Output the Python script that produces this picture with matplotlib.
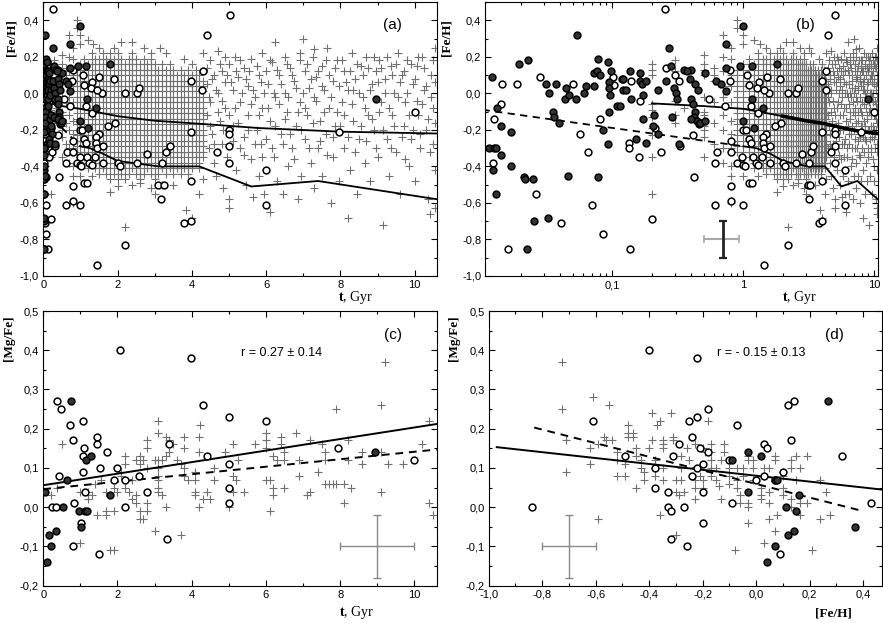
import numpy as np
import matplotlib
matplotlib.use("Agg")
import matplotlib.pyplot as plt
from matplotlib.ticker import MultipleLocator, FuncFormatter, LogLocator, NullFormatter

plt.rcParams['font.family'] = 'Liberation Sans'
plt.rcParams['mathtext.fontset'] = 'custom'
plt.rcParams['mathtext.bf'] = 'Liberation Serif:bold'
plt.rcParams['mathtext.rm'] = 'Liberation Serif'

# ---------------- panels (a),(b): age vs [Fe/H] ----------------
# filled circles (t [Gyr], [Fe/H])
filled_ab = [(0.012, 0.09), (0.0192, 0.16), (0.0225, 0.18), (0.0537, 0.32), (0.031, 0.05), (0.0374, 0.05),
             (0.0327, 0.0), (0.0443, 0.03), (0.0433, -0.03), (0.0464, -0.01), (0.0531, -0.03), (0.061, 0.0),
             (0.063, 0.04), (0.0725, 0.04), (0.072, 0.11), (0.076, 0.12), (0.0805, 0.10), (0.0778, 0.19),
             (0.093, 0.17), (0.097, 0.12), (0.094, 0.06), (0.094, 0.03), (0.095, -0.01), (0.0937, -0.10),
             (0.0853, -0.20), (0.092, -0.28), (0.0773, -0.46), (0.108, -0.07), (0.1186, 0.08), (0.12, 0.02),
             (0.0132, -0.08), (0.0141, -0.18), (0.0167, -0.21), (0.0115, -0.30), (0.0124, -0.30), (0.013, -0.30),
             (0.0141, -0.34), (0.0122, -0.42), (0.0169, -0.40), (0.0129, -0.55), (0.0212, -0.46), (0.0215, -0.47),
             (0.0249, -0.47), (0.0254, -0.70), (0.0322, -0.68), (0.0221, -0.85), (0.0454, -0.45), (0.035, -0.10),
             (0.0355, -0.13), (0.0394, -0.16), (1.0, 0.37), (0.733, 0.27), (0.269, 0.25), (0.1355, 0.12),
             (0.1206, 0.08), (0.162, 0.11), (0.162, 0.07), (0.167, 0.05), (0.18, 0.07), (0.126, 0.02),
             (0.138, -0.03), (0.115, -0.07), (0.221, 0.02), (0.171, -0.01), (0.17, -0.14), (0.206, -0.12),
             (0.203, -0.18), (0.223, -0.22), (0.152, -0.25), (0.18, -0.27), (0.285, -0.13), (0.282, 0.15),
             (0.258, 0.07), (0.296, 0.03), (0.305, 0.0), (0.31, -0.03), (0.32, -0.28), (0.35, 0.13), (0.40, 0.13),
             (0.39, 0.08), (0.43, 0.05), (0.45, 0.02), (0.40, -0.03), (0.41, -0.06), (0.43, -0.10), (0.42, -0.13),
             (0.44, -0.15), (0.46, -0.17), (0.40, -0.14), (0.47, -0.16), (0.507, 0.11), (0.507, -0.15),
             (0.615, 0.07), (0.67, 0.05), (0.73, 0.01), (0.733, 0.14), (0.94, 0.15), (1.0, -0.15), (0.37, 0.12),
             (1.16, 0.15), (1.8, 0.16), (8.95, -0.03), (1.17, -0.03), (1.41, -0.08), (1.2, -0.19)]

# open circles
open_ab = [(0.0144, 0.05), (0.0186, 0.05), (0.0282, 0.09), (0.0504, 0.05), (0.101, 0.09), (0.103, 0.045),
           (0.0141, -0.06), (0.0125, -0.14), (0.0122, -0.38), (0.0259, -0.55), (0.0159, -0.85), (0.0567, -0.22),
           (0.065, -0.32), (0.0805, -0.14), (0.0703, -0.61), (0.0403, -0.71), (0.0853, -0.77), (0.254, 0.46),
           (0.136, -0.85), (0.20, -0.69), (0.418, -0.46), (0.608, -0.61), (0.805, -0.51), (0.805, -0.59),
           (1.0, -0.61), (0.134, -0.27), (0.134, -0.30), (0.16, -0.35), (0.236, -0.32), (0.21, -0.19),
           (0.163, -0.04), (0.41, -0.23), (0.327, -0.29), (0.633, -0.32), (0.608, -0.38), (0.80, -0.26),
           (0.80, -0.32), (0.9, -0.38), (1.0, -0.39), (1.02, -0.40), (0.547, -0.03), (0.72, -0.07), (0.786, 0.07),
           (0.79, 0.13), (0.255, 0.14), (0.30, 0.10), (0.32, 0.07), (0.138, 0.07), (5.04, 0.43), (4.40, 0.32),
           (4.30, 0.12), (3.97, 0.07), (4.27, 0.02), (1.90, 0.08), (1.51, 0.09), (2.2, 0.0), (2.52, 0.0),
           (2.59, 0.03), (1.57, 0.0), (1.06, 0.10), (1.10, 0.045), (1.31, 0.06), (1.28, 0.03), (1.44, 0.02),
           (1.15, -0.07), (1.30, -0.11), (1.0, -0.20), (1.04, -0.20), (1.94, -0.16), (1.73, -0.18), (1.50, -0.22),
           (1.42, -0.24), (1.42, -0.27), (1.44, -0.30), (1.60, -0.29), (1.1, -0.25), (1.15, -0.27), (0.98, -0.35),
           (1.19, -0.35), (1.38, -0.35), (1.24, -0.38), (1.30, -0.39), (1.60, -0.38), (2.0, -0.38), (2.07, -0.40),
           (2.52, -0.38), (2.79, -0.33), (3.19, -0.38), (3.31, -0.32), (3.40, -0.29), (3.98, -0.21), (4.69, -0.32),
           (5.01, -0.20), (5.01, -0.22), (5.01, -0.29), (5.01, -0.38), (6.0, -0.42), (6.0, -0.61), (7.95, -0.21),
           (10.0, -0.10), (1.1, -0.49), (1.17, -0.49), (3.97, -0.48), (3.1, -0.50), (3.24, -0.50), (3.18, -0.58),
           (3.80, -0.71), (3.99, -0.70), (2.2, -0.83), (1.44, -0.94)]

# field stars: ages on a 0.1 Gyr grid in the dense part ([Fe/H] in hundredths)
lattice_t = [0.9, 1.0, 1.1, 1.2, 1.3, 1.4, 1.5, 1.6, 1.7, 1.8, 1.9, 2.0, 2.1, 2.2, 2.3, 2.4, 2.5, 2.6,
             2.7, 2.8, 2.9, 3.0, 3.1, 3.2, 3.3, 3.4, 3.5, 3.6, 3.7, 3.8, 3.9, 4.0, 4.1, 4.2, 4.3]
lattice_feh = [
    [-32, -29, -26, -23, -20, -17, -14, -11, -8, -5, -2, 1, 4, 7, 10, 13],
    [-38, -35, -32, -29, -26, -23, -20, -17, -14, -11, -8, -5, -2, 1, 4, 7, 10, 13, 16],
    [-35, -32, -29, -26, -23, -20, -17, -14, -11, -8, -5, -2, 1, 4, 7, 10, 13, 16, 19],
    [-41, -38, -35, -32, -29, -26, -23, -20, -17, -14, -11, -8, -5, -2, 1, 4, 7, 10, 13, 16],
    [-38, -35, -32, -29, -26, -23, -20, -17, -14, -11, -8, -5, -2, 1, 4, 7, 10, 13, 16, 19, 22],
    [-41, -38, -35, -32, -29, -26, -23, -20, -17, -14, -11, -8, -5, -2, 1, 4, 7, 10, 13, 16, 19],
    [-44, -41, -38, -35, -32, -29, -26, -23, -20, -17, -14, -11, -8, -5, -2, 1, 4, 7, 10, 13, 16, 19],
    [-41, -38, -35, -32, -29, -26, -23, -20, -17, -14, -11, -8, -5, -2, 1, 4, 7, 10, 13, 16, 19, 22],
    [-44, -41, -38, -35, -32, -29, -26, -23, -20, -17, -14, -11, -8, -5, -2, 1, 4, 7, 10, 13, 16, 19],
    [-47, -44, -41, -38, -35, -32, -29, -26, -23, -20, -17, -14, -11, -8, -5, -2, 1, 4, 7, 10, 13, 16, 19, 22],
    [-44, -41, -38, -35, -32, -29, -26, -23, -20, -17, -14, -11, -8, -5, -2, 1, 4, 7, 10, 13, 16, 19],
    [-47, -44, -41, -38, -35, -32, -29, -26, -23, -20, -17, -14, -11, -8, -5, -2, 1, 4, 7, 10, 13, 16, 19, 22],
    [-44, -41, -38, -35, -32, -29, -26, -23, -20, -17, -14, -11, -8, -5, -2, 1, 4, 7, 10, 13, 16, 19],
    [-47, -44, -41, -38, -35, -32, -29, -26, -23, -20, -17, -14, -11, -8, -5, -2, 1, 4, 7, 10, 13, 16],
    [-44, -41, -38, -35, -32, -29, -26, -23, -20, -17, -14, -11, -8, -5, -2, 1, 4, 7, 10, 13, 16, 19],
    [-41, -38, -35, -32, -29, -26, -23, -20, -17, -14, -11, -8, -5, -2, 1, 4, 7, 10, 13, 16, 19, 22],
    [-44, -41, -38, -35, -32, -29, -26, -23, -20, -17, -14, -11, -8, -5, -2, 1, 4, 7, 10, 13, 16, 19],
    [-47, -44, -41, -38, -35, -32, -29, -26, -23, -20, -17, -14, -11, -8, -5, -2, 1, 4, 7, 10, 13, 16],
    [-44, -41, -38, -35, -32, -29, -26, -23, -20, -17, -14, -11, -8, -5, -2, 1, 4, 7, 10, 13, 16, 19],
    [-41, -38, -35, -32, -29, -26, -23, -20, -17, -14, -11, -8, -5, -2, 1, 4, 7, 10, 13, 16],
    [-44, -41, -38, -35, -32, -29, -26, -23, -20, -17, -14, -11, -8, -5, -2, 1, 4, 7, 10, 13, 16, 19],
    [-47, -44, -41, -38, -35, -32, -29, -26, -23, -20, -17, -14, -11, -8, -5, -2, 1, 4, 7, 10, 13, 16],
    [-44, -41, -38, -35, -32, -29, -26, -23, -20, -17, -14, -11, -8, -5, -2, 1, 4, 7, 10, 13],
    [-41, -38, -35, -32, -29, -26, -23, -20, -17, -14, -11, -8, -5, -2, 1, 4, 7, 10, 13, 16],
    [-44, -41, -38, -35, -32, -29, -26, -23, -20, -17, -14, -11, -8, -5, -2, 1, 4, 7, 10, 13],
    [-41, -38, -35, -32, -29, -26, -23, -20, -17, -14, -11, -8, -5, -2, 1, 4, 7, 10, 13, 16],
    [-44, -41, -38, -35, -32, -29, -26, -23, -20, -17, -14, -11, -8, -5, -2, 1, 4, 7, 10, 13],
    [-41, -38, -35, -32, -29, -26, -23, -20, -17, -14, -11, -8, -5, -2, 1, 4, 7, 10],
    [-44, -41, -38, -35, -32, -29, -26, -23, -20, -17, -14, -11, -8, -5, -2, 1, 4, 7, 10, 13],
    [-41, -38, -35, -32, -29, -26, -23, -20, -17, -14, -11, -8, -5, -2, 1, 4, 7, 10],
    [-44, -41, -38, -35, -32, -29, -26, -23, -20, -17, -14, -11, -8, -5, -2, 1, 4, 7, 10, 13],
    [-41, -38, -35, -32, -29, -26, -23, -20, -17, -14, -11, -8, -5, -2, 1, 4, 7, 10],
    [-38, -35, -32, -29, -26, -23, -20, -17, -14, -11, -8, -5, -2, 1, 4, 7, 10, 13],
    [-41, -38, -35, -32, -29, -26, -23, -20, -17, -14, -11, -8, -5, -2, 1, 4, 7, 10],
    [-35, -32, -29, -26, -23, -20, -17, -14, -11, -8, -5, -2, 1, 4, 7],
]

# field stars outside the dense grid
crosses_ab = [(0.2, 0.16), (0.2, 0.13), (0.2, 0.10), (0.2, -0.06), (0.2, -0.09), (0.2, -0.13), (0.2, -0.19),
              (0.2, -0.23), (0.2, -0.35), (0.2, -0.55), (0.3, 0.18), (0.3, 0.12), (0.3, -0.04), (0.3, -0.12),
              (0.3, -0.16), (0.35, -0.08), (0.5, 0.21), (0.5, 0.16), (0.5, 0.13), (0.5, 0.10), (0.5, -0.02),
              (0.5, -0.10), (0.5, -0.12), (0.5, -0.14), (0.5, -0.18), (0.5, -0.20), (0.5, -0.24), (0.5, -0.35),
              (0.6, 0.14), (0.6, 0.10), (0.6, 0.07), (0.6, -0.05), (0.6, -0.16), (0.6, -0.28), (0.7, 0.32),
              (0.7, 0.20), (0.7, 0.12), (0.7, 0.04), (0.7, -0.02), (0.7, -0.12), (0.7, -0.20), (0.7, -0.30),
              (0.7, -0.38), (0.8, 0.25), (0.8, 0.19), (0.8, 0.10), (0.8, 0.04), (0.8, -0.05), (0.8, -0.15),
              (0.8, -0.22), (0.8, -0.30), (0.8, -0.40), (0.8, -0.45), (0.8, -0.60), (0.9, 0.40), (0.9, 0.36),
              (1.0, 0.32), (1.0, 0.27), (1.2, 0.29), (1.35, 0.27), (1.5, 0.25), (1.9, 0.25), (2.1, 0.28),
              (2.4, 0.28), (2.7, 0.25), (3.15, 0.25), (3.3, 0.22), (2.9, 0.22), (3.8, 0.19), (4.0, 0.16),
              (4.3, 0.22), (1.0, -0.45), (1.3, -0.45), (1.8, -0.54), (2.2, -0.73), (2.4, -0.50), (2.9, -0.52),
              (3.2, -0.50), (3.5, -0.50), (3.85, -0.64), (4.0, -0.68), (4.2, -0.55), (4.3, -0.47), (2.0, -0.51),
              (2.6, -0.49), (3.0, -0.55),
              (4.4, 0.05), (4.4, -0.12), (4.45, -0.30), (4.5, 0.18), (4.5, -0.05), (4.55, -0.22), (4.6, 0.10),
              (4.6, -0.38), (4.65, -0.45), (4.7, 0.23), (4.7, 0.0), (4.75, -0.15), (4.8, 0.12), (4.8, -0.28),
              (4.85, -0.52), (4.9, 0.06), (4.9, -0.08), (4.95, -0.35), (5.0, 0.16), (5.0, -0.58), (5.0, -0.63),
              (5.1, 0.02), (5.1, -0.18), (5.15, 0.2), (5.2, -0.42), (5.25, 0.09), (5.3, -0.05), (5.3, -0.30),
              (5.4, 0.14), (5.4, -0.24), (5.45, -0.50), (5.5, 0.04), (5.5, -0.12), (5.6, 0.19), (5.6, -0.36),
              (5.65, -0.57), (5.7, -0.02), (5.75, -0.20), (5.8, 0.10), (5.8, -0.45), (5.85, -0.28), (5.9, 0.22),
              (5.9, -0.08), (5.95, -0.55), (6.05, 0.05), (6.1, -0.15), (6.1, -0.65), (6.15, 0.17), (6.2, -0.35),
              (6.25, 0.28), (6.25, -0.02), (6.3, -0.48), (6.35, 0.10), (6.4, -0.22), (6.45, -0.55), (6.5, 0.0),
              (6.5, 0.20), (6.55, -0.10), (6.6, -0.40), (6.65, 0.14), (6.7, -0.30), (6.75, 0.07), (6.8, -0.18),
              (6.85, -0.58), (6.9, 0.18), (6.9, -0.05), (6.95, -0.45), (7.0, 0.30), (7.05, 0.12), (7.05, -0.25),
              (7.1, -0.12), (7.15, 0.03), (7.2, -0.38), (7.25, 0.20), (7.3, -0.52), (7.3, -0.02), (7.35, 0.09),
              (7.4, -0.30), (7.45, -0.15), (7.5, 0.15), (7.5, -0.45), (7.55, 0.02), (7.6, -0.22), (7.65, 0.25),
              (7.7, -0.08), (7.75, -0.60), (7.8, 0.07), (7.8, -0.35), (7.85, -0.18), (7.9, 0.18), (7.95, -0.48),
              (8.05, -0.05), (8.1, 0.12), (8.1, -0.30), (8.2, -0.68), (8.2, 0.02), (8.25, -0.42), (8.3, 0.22),
              (8.35, -0.15), (8.4, 0.08), (8.45, -0.55), (8.5, -0.25), (8.55, 0.15), (8.6, -0.02), (8.65, -0.38),
              (8.7, 0.20), (8.75, -0.12), (8.8, -0.48), (8.85, 0.05), (8.9, -0.20), (8.95, 0.12), (9.0, -0.35),
              (9.05, 0.18), (9.1, -0.05), (9.15, -0.72), (9.2, 0.08), (9.25, -0.25), (9.3, -0.45), (9.35, 0.15),
              (9.4, -0.12), (9.45, 0.0), (9.5, -0.32), (9.55, 0.22), (9.6, -0.55), (9.65, 0.10), (9.7, -0.18),
              (9.75, -0.05), (9.8, 0.18), (9.85, -0.40), (9.9, -0.25), (9.95, 0.05), (10.0, -0.48), (10.05, 0.15),
              (10.1, -0.12), (10.15, -0.30), (10.2, 0.20), (10.25, 0.02), (10.3, -0.20), (10.35, -0.58),
              (10.4, -0.66), (10.45, 0.10), (10.5, -0.08), (10.5, -0.28), (10.55, 0.25), (10.55, -0.63),
              (10.55, -0.42)]

# more old field stars (t > 4.3 Gyr), the crowded band between -0.35 and +0.2
crosses_ab_old = [(4.4, 0.14), (4.45, -0.02), (4.5, -0.18), (4.55, 0.08), (4.6, -0.28), (4.65, 0.02),
                  (4.7, -0.10), (4.75, 0.16), (4.8, -0.04), (4.85, -0.20), (4.9, 0.20), (4.95, 0.10),
                  (5.0, -0.12), (5.05, 0.06), (5.1, -0.26), (5.15, -0.08), (5.2, 0.12), (5.25, -0.16),
                  (5.3, 0.18), (5.35, 0.0), (5.4, -0.34), (5.45, 0.08), (5.5, -0.20), (5.55, 0.12),
                  (5.6, -0.06), (5.65, 0.02), (5.7, -0.28), (5.75, 0.15), (5.8, -0.12), (5.85, 0.06),
                  (5.9, -0.35), (5.95, 0.0), (6.0, 0.12), (6.0, -0.25), (6.05, -0.08), (6.1, 0.18),
                  (6.15, -0.30), (6.2, 0.0), (6.25, -0.18), (6.3, 0.13), (6.35, -0.06), (6.4, 0.05),
                  (6.45, -0.28), (6.5, -0.14), (6.55, 0.16), (6.6, -0.02), (6.65, -0.22), (6.7, 0.10),
                  (6.75, -0.36), (6.8, 0.03), (6.85, -0.10), (6.9, 0.22), (6.95, -0.20), (7.0, 0.0),
                  (7.05, -0.08), (7.1, 0.16), (7.15, -0.30), (7.2, 0.08), (7.25, -0.16), (7.3, 0.24),
                  (7.35, -0.04), (7.4, 0.12), (7.45, -0.26), (7.5, 0.04), (7.55, -0.10), (7.6, 0.18),
                  (7.65, -0.34), (7.7, 0.10), (7.75, -0.02), (7.8, -0.24), (7.85, 0.14), (7.9, -0.10),
                  (7.95, 0.04), (8.0, -0.18), (8.05, 0.18), (8.1, -0.12), (8.15, 0.06), (8.2, -0.24),
                  (8.25, 0.12), (8.3, -0.06), (8.35, 0.02), (8.4, -0.32), (8.45, 0.16), (8.5, 0.0),
                  (8.55, -0.18), (8.6, 0.10), (8.65, -0.08), (8.7, -0.26), (8.75, 0.14), (8.8, 0.02),
                  (8.85, -0.14), (8.9, 0.20), (8.95, -0.30), (9.0, 0.06), (9.05, -0.10), (9.1, 0.14),
                  (9.15, -0.20), (9.2, 0.0), (9.25, 0.20), (9.3, -0.08), (9.35, -0.30), (9.4, 0.10),
                  (9.45, -0.18), (9.5, 0.16), (9.55, -0.02), (9.6, 0.06), (9.65, -0.24), (9.7, 0.12),
                  (9.75, -0.36), (9.8, 0.0), (9.85, -0.12), (9.9, 0.16), (9.95, -0.20), (10.0, 0.08),
                  (10.05, -0.04), (10.1, 0.20), (10.15, -0.22), (10.2, -0.06), (10.25, 0.14), (10.3, 0.04),
                  (10.35, -0.14), (10.4, -0.32), (10.45, -0.02), (10.5, 0.18), (10.55, 0.06), (10.55, -0.16)]

# mean relations
upper_t = [0.2, 0.5, 1.0, 2.0, 3.0, 4.1, 5.8, 8.0, 10.6]
upper_feh = [-0.055, -0.07, -0.085, -0.125, -0.15, -0.165, -0.19, -0.21, -0.22]
lower_t = [1.0, 1.25, 1.6, 2.0, 3.1, 4.2, 5.6, 7.4, 10.6]
lower_feh = [-0.29, -0.30, -0.33, -0.37, -0.40, -0.40, -0.51, -0.48, -0.58]
dash_t = [0.0102, 1.0]
dash_feh = [-0.09, -0.29]

# ---------------- panel (c): age vs [Mg/Fe] ----------------
open_c = [(2.07, 0.40), (3.97, 0.38), (4.30, 0.26), (5.01, 0.23), (6.0, 0.22), (0.36, 0.27), (0.47, 0.25),
          (0.72, 0.21), (1.08, 0.22), (0.81, 0.17), (1.10, 0.15), (1.44, 0.18), (1.44, 0.16), (1.73, 0.14),
          (1.53, 0.10), (2.0, 0.10), (3.40, 0.16), (4.40, 0.13), (7.95, 0.15), (10.0, 0.12), (5.01, 0.11),
          (5.01, 0.05), (5.01, 0.01), (0.43, 0.08), (1.06, 0.09), (1.06, 0.13), (1.90, 0.07), (2.2, 0.07),
          (2.59, 0.08), (2.79, 0.04), (2.2, 0.0), (0.23, 0.0), (0.34, 0.0), (0.83, 0.01), (1.12, 0.04),
          (1.03, -0.04), (0.81, -0.10), (1.51, -0.12), (3.33, -0.08)]
filled_c = [(0.75, 0.27), (1.28, 0.13), (1.15, 0.12), (0.63, 0.07), (0.06, 0.04), (1.80, 0.03), (0.52, 0.0),
            (0.95, -0.01), (1.12, -0.01), (1.17, -0.01), (1.02, -0.05), (0.16, -0.07), (0.33, -0.06),
            (0.20, -0.10), (0.09, -0.14), (8.93, 0.14)]
crosses_c = [(9.2, 0.37), (9.1, 0.26), (7.9, 0.25), (4.23, 0.21), (3.1, 0.22), (3.1, 0.19), (3.3, 0.18),
             (3.8, 0.18), (4.2, 0.18), (2.8, 0.17), (2.8, 0.15), (3.4, 0.17), (6.0, 0.19), (6.0, 0.17),
             (6.4, 0.18), (6.8, 0.19), (5.7, 0.16), (7.2, 0.17), (7.5, 0.16), (8.2, 0.17), (10.4, 0.22),
             (10.2, 0.16), (9.3, 0.11), (9.7, 0.11), (9.1, 0.14), (8.6, 0.14), (8.2, 0.12), (7.6, 0.14),
             (7.6, 0.12), (7.4, 0.09), (6.9, 0.12), (6.9, 0.08), (6.5, 0.05), (7.2, 0.04), (7.1, 0.03),
             (7.6, 0.06), (7.7, 0.06), (7.8, 0.06), (7.9, 0.06), (8.1, 0.06), (8.3, 0.05), (8.1, 0.01),
             (6.0, 0.07), (6.1, 0.07), (6.2, 0.05), (6.2, 0.03), (6.1, -0.01), (6.2, 0.13), (6.3, 0.12),
             (6.5, 0.12), (6.5, 0.14), (6.0, 0.15), (5.4, 0.04), (5.2, 0.07), (5.1, 0.08), (5.25, 0.12),
             (5.1, 0.16), (4.9, 0.14), (4.6, 0.10), (4.6, 0.07), (4.4, 0.04), (4.5, 0.02), (4.2, 0.0),
             (4.3, 0.02), (4.1, 0.04), (4.1, 0.03), (4.1, 0.07), (4.1, 0.09), (3.8, 0.10), (3.8, 0.08),
             (3.9, 0.07), (3.7, 0.11), (3.6, 0.12), (3.8, 0.15), (3.4, 0.14), (3.3, 0.13), (3.2, 0.12),
             (3.1, 0.12), (3.0, 0.12), (3.1, 0.10), (3.1, 0.08), (3.1, 0.07), (3.1, 0.05), (3.1, 0.04),
             (3.2, 0.03), (3.0, -0.06), (3.3, 0.0), (3.7, -0.07), (2.8, 0.10), (2.7, 0.12), (2.6, 0.13),
             (2.6, 0.11), (2.5, 0.12), (2.8, 0.01), (2.8, -0.01), (2.7, -0.03), (2.6, -0.03), (2.6, -0.01),
             (2.5, 0.01), (2.4, 0.02), (2.5, 0.03), (2.3, 0.04), (2.2, 0.05), (2.2, 0.11), (2.2, 0.13),
             (2.1, 0.09), (2.1, 0.08), (2.0, 0.04), (1.9, 0.05), (1.9, -0.01), (1.7, -0.01), (1.7, -0.02),
             (1.8, -0.11), (1.9, -0.11), (1.45, -0.02), (1.55, 0.07), (1.7, 0.04), (1.2, 0.02), (1.2, 0.04),
             (1.3, 0.03), (1.0, 0.04), (1.0, -0.09), (0.5, 0.16), (0.2, 0.03), (0.38, 0.05), (10.4, 0.01),
             (10.5, -0.02), (9.1, 0.04), (8.6, 0.11), (5.0, 0.0), (5.1, 0.04), (6.4, 0.16), (4.2, 0.14),
             (3.5, 0.16), (2.4, 0.07), (1.4, 0.06)]
fit_c_t = [0.0, 10.6]
fit_c_solid = [0.056, 0.212]
fit_c_dash = [0.046, 0.147]

# ---------------- panel (d): [Fe/H] vs [Mg/Fe] ----------------
open_d = [(-0.84, 0.0), (-0.40, 0.40), (-0.22, 0.38), (-0.61, 0.22), (-0.49, 0.13), (-0.38, 0.10),
          (-0.38, 0.05), (-0.33, 0.04), (-0.33, 0.0), (-0.32, -0.01), (-0.31, 0.13), (-0.29, 0.16),
          (-0.25, 0.22), (-0.22, 0.23), (-0.24, 0.18), (-0.21, 0.15), (-0.18, 0.25), (-0.18, 0.14),
          (-0.20, 0.11), (-0.22, 0.10), (-0.24, 0.08), (-0.20, 0.04), (-0.20, -0.04), (-0.27, 0.0),
          (-0.32, -0.08), (-0.26, -0.10), (-0.10, 0.12), (-0.07, 0.21), (-0.09, 0.01), (0.0, 0.07),
          (0.03, 0.16), (0.04, 0.15), (0.03, 0.08), (0.07, 0.07), (0.10, 0.09), (0.12, 0.26), (0.14, 0.27),
          (0.13, 0.17), (0.32, 0.13), (0.43, 0.01), (0.09, -0.12)]
filled_d = [(-0.03, 0.14), (-0.09, 0.12), (0.02, 0.13), (-0.03, 0.04), (0.07, 0.07), (0.08, 0.07),
            (0.11, 0.0), (0.15, -0.01), (0.16, 0.03), (0.14, -0.06), (0.12, -0.07), (0.07, -0.10),
            (0.04, -0.14), (0.37, -0.05), (0.27, 0.27)]
crosses_d = [(-0.725, 0.37), (-0.725, 0.25), (-0.61, 0.28), (-0.55, 0.26), (-0.71, 0.09), (-0.62, 0.11),
             (-0.62, 0.15), (-0.59, 0.16), (-0.71, 0.17), (-0.59, -0.03), (-0.57, 0.18), (-0.56, 0.17),
             (-0.54, 0.17), (-0.52, 0.14), (-0.52, 0.12), (-0.48, 0.21), (-0.48, 0.19), (-0.48, 0.18),
             (-0.46, 0.19), (-0.46, 0.18), (-0.49, 0.11), (-0.49, 0.08), (-0.45, 0.15), (-0.45, 0.13),
             (-0.43, 0.12), (-0.43, 0.10), (-0.42, 0.09), (-0.42, 0.07), (-0.40, 0.15), (-0.39, 0.17),
             (-0.39, 0.24), (-0.37, 0.21), (-0.36, 0.22), (-0.35, 0.17), (-0.35, 0.16), (-0.35, 0.15),
             (-0.32, 0.24), (-0.31, 0.18), (-0.31, 0.17), (-0.38, 0.12), (-0.38, 0.10), (-0.38, 0.08),
             (-0.35, 0.10), (-0.35, 0.07), (-0.36, -0.02), (-0.30, 0.07), (-0.30, 0.04), (-0.29, 0.03),
             (-0.30, -0.07), (-0.28, 0.13), (-0.28, 0.10), (-0.28, 0.07), (-0.26, 0.15), (-0.25, 0.12),
             (-0.23, 0.16), (-0.20, 0.15), (-0.19, 0.14), (-0.23, 0.07), (-0.23, 0.05), (-0.23, 0.02),
             (-0.21, 0.08), (-0.20, 0.07), (-0.20, 0.05), (-0.18, 0.22), (-0.17, 0.16), (-0.17, 0.14),
             (-0.17, 0.12), (-0.17, 0.10), (-0.17, 0.08), (-0.15, 0.10), (-0.15, 0.07), (-0.14, 0.055),
             (-0.13, 0.02), (-0.12, 0.16), (-0.12, 0.14), (-0.10, 0.10), (-0.10, 0.08), (-0.10, 0.06),
             (-0.07, 0.10), (-0.07, 0.07), (-0.07, 0.05), (-0.06, 0.03), (-0.06, 0.01), (-0.08, -0.11),
             (-0.05, 0.10), (-0.05, 0.08), (-0.03, 0.13), (-0.03, 0.12), (-0.03, 0.01), (-0.03, 0.0),
             (-0.03, -0.04), (-0.01, 0.12), (-0.01, 0.10), (-0.01, 0.07), (0.02, 0.05), (0.02, 0.03),
             (0.02, 0.02), (0.03, 0.08), (0.03, 0.10), (0.05, 0.10), (0.07, 0.13), (0.07, 0.12), (0.05, 0.04),
             (0.05, 0.01), (0.05, -0.03), (0.07, -0.06), (0.03, -0.09), (0.10, 0.09), (0.10, 0.08),
             (0.10, 0.05), (0.10, 0.03), (0.13, 0.12), (0.13, 0.10), (0.15, 0.13), (0.13, 0.02), (0.13, 0.0),
             (0.15, 0.07), (0.165, 0.01), (0.165, -0.02), (0.19, 0.13), (0.21, -0.11), (0.19, 0.01),
             (0.24, -0.03), (0.26, 0.04), (0.275, -0.02), (0.24, 0.07), (0.165, 0.10), (-0.52, 0.08),
             (-0.45, 0.05), (-0.27, 0.04), (-0.13, 0.12), (0.08, -0.02)]
fit_d_solid_x = [-0.97, 0.47]
fit_d_solid_y = [0.153, 0.045]
fit_d_dash_x = [-0.83, 0.40]
fit_d_dash_y = [0.203, -0.01]

# typical error bars
err_b = (0.7, -0.8, [[0.2], [0.22]], 0.1)
err_c = (9.0, -0.1, 1.0, 0.08)
err_d = (-0.7, -0.1, 0.1, 0.08)

CROSS_COL = '#707070'


def comma(v, pos):
    v = round(v, 3)
    if abs(v) < 1e-9:
        v = 0.0
    return ('%.1f' % v).replace('.', ',')


def style(ax):
    ax.tick_params(which='both', direction='in', top=True, right=True, labelsize=8, width=0.8, pad=3)
    ax.tick_params(which='major', length=4)
    ax.tick_params(which='minor', length=2.2)
    for s in ax.spines.values():
        s.set_linewidth(0.8)


def draw_points(ax, crosses, opens, filled):
    ax.scatter(crosses[:, 0], crosses[:, 1], marker='+', s=30, c=CROSS_COL, linewidths=0.8, zorder=1)
    ax.scatter(opens[:, 0], opens[:, 1], marker='o', s=24, facecolors='white', edgecolors='black',
               linewidths=1.1, zorder=4)
    ax.scatter(filled[:, 0], filled[:, 1], marker='o', s=24, facecolors='#333333', edgecolors='black',
               linewidths=1.1, zorder=4)


lat_pts = [(t, f / 100.0) for t, col in zip(lattice_t, lattice_feh) for f in col]
cross_ab = np.array(lat_pts + crosses_ab + crosses_ab_old)
open_ab_a = np.array(open_ab)
filled_ab_a = np.array(filled_ab)

fig = plt.figure(figsize=(8.83, 6.23), dpi=100)
ax_a = fig.add_axes([0.049, 0.557, 0.4459, 0.4398])
ax_b = fig.add_axes([0.5496, 0.557, 0.4444, 0.4398])
ax_c = fig.add_axes([0.049, 0.0599, 0.4455, 0.4409])
ax_d = fig.add_axes([0.5535, 0.0599, 0.4451, 0.4409])

serif = 'Liberation Serif'

# ---- (a) and (b)
for ax in (ax_a, ax_b):
    draw_points(ax, cross_ab, open_ab_a, filled_ab_a)
    ax.plot(upper_t, upper_feh, color='black', lw=1.3, zorder=2)
    ax.plot(lower_t, lower_feh, color='black', lw=1.3, zorder=2)
    ax.plot(dash_t, dash_feh, color='black', lw=1.3, ls=(0, (4, 3)), zorder=2)
    ax.set_ylim(-1.0, 0.5)
    ax.yaxis.set_major_locator(MultipleLocator(0.2))
    ax.yaxis.set_minor_locator(MultipleLocator(0.1))
    ax.yaxis.set_major_formatter(FuncFormatter(comma))
    style(ax)

ax_a.set_xlim(0, 10.6)
ax_a.xaxis.set_major_locator(MultipleLocator(2))
ax_a.xaxis.set_minor_locator(MultipleLocator(1))
ax_a.xaxis.set_major_formatter(FuncFormatter(lambda v, p: '%d' % round(v)))
ax_a.text(0.888, 0.916, '(a)', transform=ax_a.transAxes, ha='center', va='center', fontsize=11)
ax_a.text(-0.08, 0.869, '[Fe/H]', transform=ax_a.transAxes, rotation=90, ha='center', va='center',
          fontsize=9.5, family=serif, weight='bold')
ax_a.text(0.792, -0.078, r'$\mathbf{t}$, Gyr', transform=ax_a.transAxes, ha='center', va='center',
          fontsize=10, family=serif)

ax_b.set_xscale('log')
ax_b.set_xlim(0.0107, 10.6)
ax_b.xaxis.set_major_locator(LogLocator(base=10, subs=[1.0]))
ax_b.xaxis.set_minor_locator(LogLocator(base=10, subs=[2, 3, 4, 5, 6, 7, 8, 9]))
ax_b.xaxis.set_minor_formatter(NullFormatter())
ax_b.xaxis.set_major_formatter(FuncFormatter(lambda v, p: ('%g' % v).replace('.', ',')))
# thicker running mean for the old stars
thick = [i for i, t in enumerate(upper_t) if t >= 2.0]
ax_b.plot([upper_t[i] for i in thick], [upper_feh[i] for i in thick], color='black', lw=2.6, zorder=2)
x0, y0, xe, ye = err_b
ax_b.errorbar(x0, y0, xerr=xe, fmt='none', ecolor='#a8a8a8', elinewidth=1.5, capsize=3, capthick=1.2, zorder=5)
ax_b.errorbar(x0, y0, yerr=ye, fmt='none', ecolor='#222222', elinewidth=2.0, capsize=3, capthick=1.6, zorder=6)
ax_b.text(0.815, 0.916, '(b)', transform=ax_b.transAxes, ha='center', va='center', fontsize=11)
ax_b.text(-0.098, 0.869, '[Fe/H]', transform=ax_b.transAxes, rotation=90, ha='center', va='center',
          fontsize=9.5, family=serif, weight='bold')
ax_b.text(0.802, -0.078, r'$\mathbf{t}$, Gyr', transform=ax_b.transAxes, ha='center', va='center',
          fontsize=10, family=serif)

# ---- (c)
draw_points(ax_c, np.array(crosses_c), np.array(open_c), np.array(filled_c))
ax_c.plot(fit_c_t, fit_c_solid, color='black', lw=1.4, zorder=2)
ax_c.plot(fit_c_t, fit_c_dash, color='black', lw=1.4, ls=(0, (4, 3)), zorder=2)
x0, y0, xe, ye = err_c
ax_c.errorbar(x0, y0, xerr=xe, yerr=ye, fmt='none', ecolor='#8a8a8a', elinewidth=1.0, capsize=3, zorder=5)
ax_c.set_xlim(0, 10.6)
ax_c.set_ylim(-0.2, 0.5)
ax_c.xaxis.set_major_locator(MultipleLocator(2))
ax_c.xaxis.set_minor_locator(MultipleLocator(1))
ax_c.xaxis.set_major_formatter(FuncFormatter(lambda v, p: '%d' % round(v)))
ax_c.yaxis.set_major_locator(MultipleLocator(0.1))
ax_c.yaxis.set_minor_locator(MultipleLocator(0.05))
ax_c.yaxis.set_major_formatter(FuncFormatter(comma))
style(ax_c)
ax_c.text(0.888, 0.913, '(c)', transform=ax_c.transAxes, ha='center', va='center', fontsize=11)
ax_c.text(0.607, 0.846, 'r = 0.27 \u00b1 0.14', transform=ax_c.transAxes, ha='center', va='center', fontsize=9)
ax_c.text(-0.087, 0.902, '[Mg/Fe]', transform=ax_c.transAxes, rotation=90, ha='center', va='center',
          fontsize=9.5, family=serif, weight='bold')
ax_c.text(0.797, -0.096, r'$\mathbf{t}$, Gyr', transform=ax_c.transAxes, ha='center', va='center',
          fontsize=10, family=serif)

# ---- (d)
draw_points(ax_d, np.array(crosses_d), np.array(open_d), np.array(filled_d))
ax_d.plot(fit_d_solid_x, fit_d_solid_y, color='black', lw=1.4, zorder=2)
ax_d.plot(fit_d_dash_x, fit_d_dash_y, color='black', lw=1.4, ls=(0, (4, 3)), zorder=2)
x0, y0, xe, ye = err_d
ax_d.errorbar(x0, y0, xerr=xe, yerr=ye, fmt='none', ecolor='#8a8a8a', elinewidth=1.0, capsize=3, zorder=5)
ax_d.set_xlim(-1.0, 0.47)
ax_d.set_ylim(-0.2, 0.5)
ax_d.xaxis.set_major_locator(MultipleLocator(0.2))
ax_d.xaxis.set_minor_locator(MultipleLocator(0.1))
ax_d.xaxis.set_major_formatter(FuncFormatter(comma))
ax_d.yaxis.set_major_locator(MultipleLocator(0.1))
ax_d.yaxis.set_minor_locator(MultipleLocator(0.05))
ax_d.yaxis.set_major_formatter(FuncFormatter(comma))
style(ax_d)
ax_d.text(0.879, 0.913, '(d)', transform=ax_d.transAxes, ha='center', va='center', fontsize=11)
ax_d.text(0.692, 0.846, 'r = - 0.15 \u00b1 0.13', transform=ax_d.transAxes, ha='center', va='center', fontsize=9)
ax_d.text(-0.088, 0.902, '[Mg/Fe]', transform=ax_d.transAxes, rotation=90, ha='center', va='center',
          fontsize=9.5, family=serif, weight='bold')
ax_d.text(0.876, -0.1, '[Fe/H]', transform=ax_d.transAxes, ha='center', va='center',
          fontsize=9.5, family=serif, weight='bold')

fig.savefig('out.png', dpi=100)
